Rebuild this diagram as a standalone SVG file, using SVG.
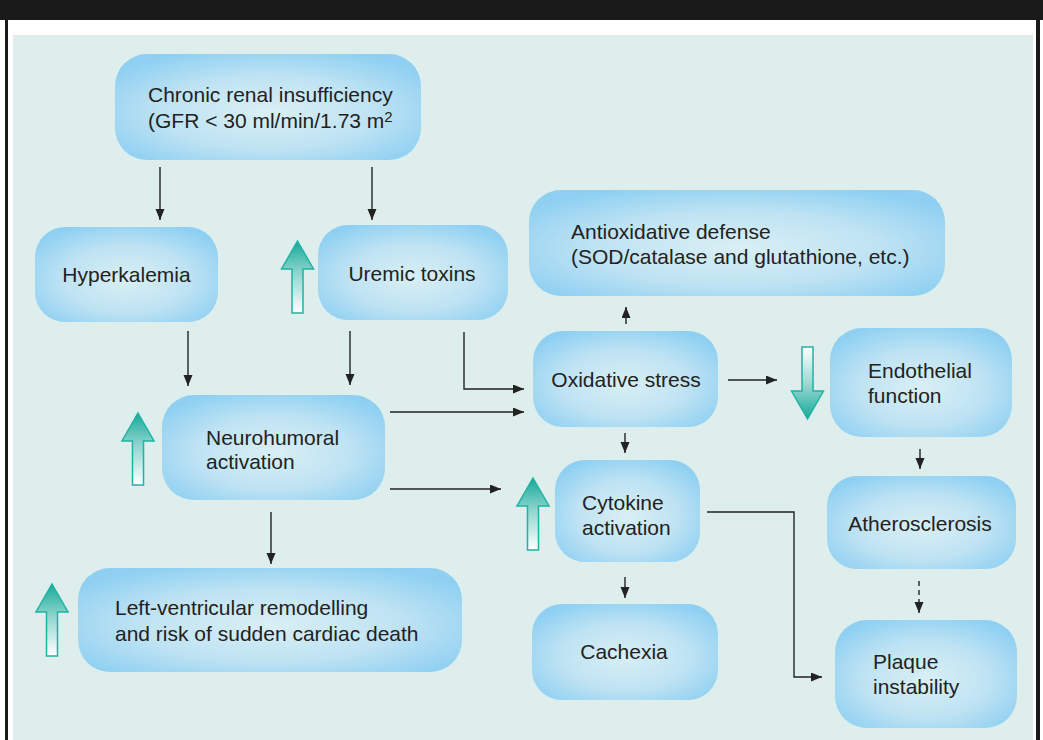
<svg xmlns="http://www.w3.org/2000/svg" width="1043" height="740" viewBox="0 0 1043 740">
<style>
.node rect{fill:url(#nodeGrad);}
.t{font-family:"Liberation Sans",Arial,sans-serif;font-size:21px;fill:#222;}
.c{text-anchor:middle;}
.ln{stroke:#222;stroke-width:1.4;fill:none;}
.teal{fill:url(#tealGrad);stroke:#1fb3a3;stroke-width:1.5;}
</style>
<defs>
<radialGradient id="nodeGrad" cx="0.5" cy="0.55" r="0.62">
<stop offset="0" stop-color="#d9eff4"/>
<stop offset="0.55" stop-color="#bfe3f3"/>
<stop offset="1" stop-color="#8fd0f2"/>
</radialGradient>
<linearGradient id="tealGrad" x1="0" y1="0" x2="0" y2="1">
<stop offset="0" stop-color="#17a899"/>
<stop offset="0.45" stop-color="#8fd6cf"/>
<stop offset="1" stop-color="#ffffff"/>
</linearGradient>
<marker id="ah" markerUnits="userSpaceOnUse" markerWidth="12" markerHeight="10" refX="11" refY="4.5" orient="auto">
<path d="M0,0 L11,4.5 L0,9 Z" fill="#222"/>
</marker>
<path id="upArrow" d="M0,0 L16,28 L5.5,28 L5.5,72 L-5.5,72 L-5.5,28 L-16,28 Z"/>
</defs>

<rect x="0" y="0" width="1043" height="740" fill="#ffffff"/>
<rect x="0" y="0" width="1043" height="20" fill="#1a1a1a"/>
<rect x="5" y="0" width="3" height="740" fill="#1a1a1a"/>
<rect x="1036" y="0" width="4" height="740" fill="#1a1a1a"/>
<rect x="13" y="35" width="1020" height="705" fill="#ddeeed"/>

<g id="connectors">
<line class="ln" x1="160" y1="167" x2="160" y2="220" marker-end="url(#ah)"/>
<line class="ln" x1="372" y1="167" x2="372" y2="220" marker-end="url(#ah)"/>
<line class="ln" x1="188" y1="331" x2="188" y2="386" marker-end="url(#ah)"/>
<line class="ln" x1="350" y1="331" x2="350" y2="385" marker-end="url(#ah)"/>
<polyline class="ln" points="464,332 464,389 524,389" marker-end="url(#ah)"/>
<line class="ln" x1="390" y1="412" x2="524" y2="412" marker-end="url(#ah)"/>
<line class="ln" x1="390" y1="489" x2="501" y2="489" marker-end="url(#ah)"/>
<line class="ln" x1="271" y1="512" x2="271" y2="564" marker-end="url(#ah)"/>
<line class="ln" x1="626" y1="324" x2="626" y2="307" marker-end="url(#ah)"/>
<line class="ln" x1="728" y1="380" x2="777" y2="380" marker-end="url(#ah)"/>
<line class="ln" x1="625" y1="433" x2="625" y2="453" marker-end="url(#ah)"/>
<line class="ln" x1="625" y1="577" x2="625" y2="598" marker-end="url(#ah)"/>
<polyline class="ln" points="707,512 794,512 794,677 822,677" marker-end="url(#ah)"/>
<line class="ln" x1="920" y1="449" x2="920" y2="469" marker-end="url(#ah)"/>
<line class="ln" x1="919" y1="581" x2="919" y2="613" stroke-dasharray="5,4" marker-end="url(#ah)"/>
</g>

<g id="teal-arrows">
<use href="#upArrow" class="teal" x="297.5" y="241"/>
<use href="#upArrow" class="teal" x="138" y="413"/>
<use href="#upArrow" class="teal" x="533" y="478"/>
<use href="#upArrow" class="teal" x="52" y="584"/>
<use href="#upArrow" class="teal" transform="translate(807.5,419) rotate(180)"/>
</g>

<g id="node-chronic" class="node">
<rect x="115" y="54" width="306" height="106" rx="32"/>
<text class="t" x="148" y="102">Chronic renal insufficiency</text>
<text class="t" x="148" y="128">(GFR &lt; 30 ml/min/1.73 m<tspan font-size="15" dy="-6">2</tspan></text>
</g>
<g id="node-hyperkalemia" class="node">
<rect x="35" y="227" width="183" height="95" rx="30"/>
<text class="t c" x="126.5" y="282">Hyperkalemia</text>
</g>
<g id="node-uremic" class="node">
<rect x="318" y="225" width="190" height="95" rx="30"/>
<text class="t c" x="412" y="281">Uremic toxins</text>
</g>
<g id="node-antiox" class="node">
<rect x="529" y="190" width="416" height="106" rx="32"/>
<text class="t" x="571" y="239">Antioxidative defense</text>
<text class="t" x="571" y="264">(SOD/catalase and glutathione, etc.)</text>
</g>
<g id="node-oxidative" class="node">
<rect x="533" y="331" width="185" height="96" rx="30"/>
<text class="t c" x="626" y="387">Oxidative stress</text>
</g>
<g id="node-endothelial" class="node">
<rect x="830" y="328" width="182" height="109" rx="32"/>
<text class="t" x="868" y="378">Endothelial</text>
<text class="t" x="868" y="403">function</text>
</g>
<g id="node-neurohumoral" class="node">
<rect x="162" y="395" width="223" height="105" rx="32"/>
<text class="t" x="206" y="445">Neurohumoral</text>
<text class="t" x="206" y="469">activation</text>
</g>
<g id="node-cytokine" class="node">
<rect x="555" y="460" width="145" height="102" rx="30"/>
<text class="t" x="582" y="510">Cytokine</text>
<text class="t" x="582" y="535">activation</text>
</g>
<g id="node-lv" class="node">
<rect x="78" y="568" width="384" height="104" rx="32"/>
<text class="t" x="115" y="615">Left-ventricular remodelling</text>
<text class="t" x="115" y="641">and risk of sudden cardiac death</text>
</g>
<g id="node-cachexia" class="node">
<rect x="532" y="604" width="186" height="96" rx="30"/>
<text class="t c" x="624" y="659">Cachexia</text>
</g>
<g id="node-athero" class="node">
<rect x="827" y="476" width="189" height="93" rx="30"/>
<text class="t c" x="920" y="531">Atherosclerosis</text>
</g>
<g id="node-plaque" class="node">
<rect x="835" y="620" width="182" height="108" rx="32"/>
<text class="t" x="873" y="669">Plaque</text>
<text class="t" x="873" y="694">instability</text>
</g>
</svg>
